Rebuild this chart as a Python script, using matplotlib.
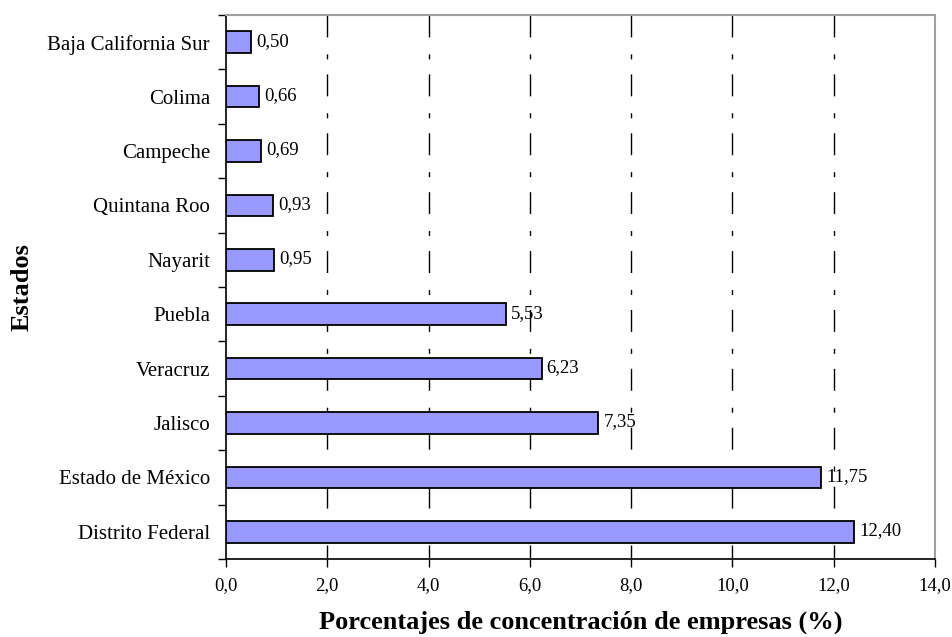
import numpy as np
import matplotlib
matplotlib.use("Agg")
import matplotlib.pyplot as plt

states = [
    "Distrito Federal",
    "Estado de México",
    "Jalisco",
    "Veracruz",
    "Puebla",
    "Nayarit",
    "Quintana Roo",
    "Campeche",
    "Colima",
    "Baja California Sur",
]
percentages = [12.40, 11.75, 7.35, 6.23, 5.53, 0.95, 0.93, 0.69, 0.66, 0.50]
x_ticks = [0.0, 2.0, 4.0, 6.0, 8.0, 10.0, 12.0, 14.0]

plt.rcParams["font.family"] = ["Liberation Serif", "DejaVu Serif"]


def comma(v, fmt):
    return format(v, fmt).replace(".", ",")


fig = plt.figure(figsize=(9.53, 6.37), dpi=100)
ax = fig.add_axes([226 / 953, 1 - 559 / 637, (935 - 226) / 953, (559 - 15) / 637])

n = len(states)
y = np.arange(n)
ax.barh(y, percentages, height=0.4, color="#9999FF", edgecolor="black", linewidth=1.3, zorder=3)

for yi, v in zip(y, percentages):
    ax.text(v + 0.1, yi + 0.02, comma(v, ".2f"), ha="left", va="center", fontsize=13.5, zorder=4)

ax.set_xlim(0, 14)
ax.set_ylim(-0.5, n - 0.5)
ax.set_xticks(x_ticks)
ax.set_xticklabels([comma(t, ".1f") for t in x_ticks], fontsize=13.5)

# category labels centred, ticks on the boundaries
ax.set_yticks(y)
ax.set_yticklabels(states, fontsize=15)
ax.tick_params(axis="y", which="major", length=0, pad=11.5)
ax.set_yticks(np.arange(-0.5, n, 1.0), minor=True)
ax.tick_params(axis="y", which="minor", length=6, width=1, direction="out")
ax.tick_params(axis="x", length=6, width=1, direction="out", pad=7)

# dash-dot gridlines, drawn top-down so the pattern starts at the top
for t in x_ticks[1:-1]:
    ax.plot([t, t], [n - 0.5, -0.5], color="black", linewidth=1,
            linestyle=(0, (15.8, 12.2, 3.6, 10.8)), zorder=1)

ax.spines["left"].set_linewidth(1.2)
ax.spines["bottom"].set_linewidth(1.2)
ax.spines["top"].set_color("#a0a0a0")
ax.spines["right"].set_color("#a0a0a0")
ax.spines["top"].set_linewidth(1.5)
ax.spines["right"].set_linewidth(1.5)

ax.set_xlabel("Porcentajes de concentración de empresas (%)", fontsize=19, fontweight="bold")
ax.xaxis.set_label_coords(0.5, -(622 - 559) / 544)
ax.xaxis.label.set_va("center")
ax.set_ylabel("Estados", fontsize=19, fontweight="bold")
ax.yaxis.set_label_coords(-(226 - 22) / 709, 0.5)
ax.yaxis.label.set_va("center")

fig.savefig("out.png", dpi=100)
